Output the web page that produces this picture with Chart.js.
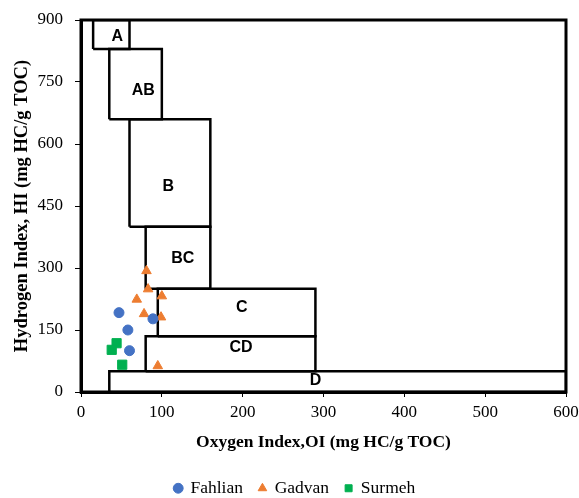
<!DOCTYPE html>
<html>
<head>
<meta charset="utf-8">
<script src="https://cdn.jsdelivr.net/npm/chart.js@4.4.1/dist/chart.umd.min.js"></script>
<style>
  html, body { margin: 0; padding: 0; background: #fff; }
  #wrap { width: 579px; height: 498px; }
</style>
</head>
<body>
<div id="wrap"><canvas id="graph_zone" width="579" height="498"></canvas></div>
<script>
// sample values (OI, HI)
const fahlianOI = [47, 89, 58, 60];
const fahlianHI = [192, 177, 150, 100];
const gadvanOI = [81, 83, 69, 100, 78, 99, 95];
const gadvanHI = [293, 249, 224, 232, 189, 181, 63];
const surmehOI = [44, 38, 51];
const surmehHI = [118, 102, 66];

// zone boxes: [minOI, maxOI], [minHI, maxHI]
const zoneNames = ['A', 'AB', 'B', 'BC', 'C', 'CD', 'D'];
const zoneOI = [[15, 60], [35, 100], [60, 160], [80, 160], [95, 290], [80, 290], [35, 600]];
const zoneHI = [[830, 900], [660, 830], [400, 660], [250, 400], [135, 250], [50, 135], [0, 50]];
const labelOI = [45, 77, 108, 126, 199, 198, 290];
const labelHI = [860, 729, 496, 322, 203, 107, 27];

const xTicks = [0, 100, 200, 300, 400, 500, 600];
const yTicks = [0, 150, 300, 450, 600, 750, 900];

function pts(xs, ys) {
    return xs.map((x, i) => ({ x: x, y: ys[i] }));
}

let datasets = [
    {
        label: 'Fahlian',
        data: pts(fahlianOI, fahlianHI),
        pointStyle: 'circle',
        pointRadius: 5,
        backgroundColor: '#4472C4',
        borderColor: '#4472C4'
    },
    {
        label: 'Gadvan',
        data: pts(gadvanOI, gadvanHI),
        pointStyle: 'triangle',
        pointRadius: 5.5,
        backgroundColor: '#ED7D31',
        borderColor: '#ED7D31'
    },
    {
        label: 'Surmeh',
        data: pts(surmehOI, surmehHI),
        pointStyle: 'rect',
        pointRadius: 6.5,
        backgroundColor: '#00B050',
        borderColor: '#00B050'
    }
];

zoneNames.forEach((name, i) => {
    let x0 = zoneOI[i][0], x1 = zoneOI[i][1];
    let y0 = zoneHI[i][0], y1 = zoneHI[i][1];
    datasets.push({
        label: 'zone ' + name,
        data: [{x: x0, y: y0}, {x: x0, y: y1}, {x: x1, y: y1}, {x: x1, y: y0}, {x: x0, y: y0}],
        showLine: true,
        pointRadius: 0,
        borderColor: '#000',
        borderWidth: 2.5,
        fill: false
    });
});

const zonePlugin = {
    id: 'zones',
    afterDatasetsDraw(chart) {
        let ctx = chart.ctx;
        let xs = chart.scales.x, ys = chart.scales.y;
        ctx.save();
        ctx.fillStyle = '#000';
        ctx.font = 'bold 16px "Liberation Sans", Arial, sans-serif';
        ctx.textAlign = 'center';
        ctx.textBaseline = 'middle';
        zoneNames.forEach((name, i) => {
            ctx.fillText(name, xs.getPixelForValue(labelOI[i]), ys.getPixelForValue(labelHI[i]));
        });
        // frame
        let a = chart.chartArea;
        ctx.strokeStyle = '#000';
        ctx.lineWidth = 3;
        ctx.strokeRect(a.left, a.top, a.right - a.left, a.bottom - a.top);
        ctx.restore();
    }
};

const serif = '"Liberation Serif", "Times New Roman", serif';
const tickFont = { family: serif, size: 17 };

let myChart = new Chart(document.querySelector('#graph_zone').getContext('2d'), {
    type: 'scatter',
    data: { datasets: datasets },
    options: {
        responsive: false,
        animation: false,
        layout: { padding: { left: 24, right: 13, top: 20, bottom: -9 } },
        plugins: {
            legend: {
                position: 'bottom',
                labels: {
                    usePointStyle: true,
                    boxWidth: 7,
                    boxHeight: 7,
                    padding: 16,
                    color: '#000',
                    font: { family: serif, size: 17.5 },
                    filter: item => !item.text.startsWith('zone')
                }
            },
            tooltip: { enabled: false }
        },
        scales: {
            x: {
                min: 0,
                max: 600,
                afterBuildTicks: axis => { axis.ticks = xTicks.map(v => ({ value: v })); },
                afterFit: axis => { axis.height = 71.5; axis.paddingLeft = 0; axis.paddingRight = 0; },
                ticks: { color: '#000', font: tickFont, padding: 5 },
                grid: { drawOnChartArea: false, color: '#000', tickLength: 5 },
                border: { color: '#000', width: 3 },
                title: { display: true, text: 'Oxygen Index,OI (mg HC/g TOC)', color: '#000', font: { family: serif, size: 17.5, weight: 'bold' }, padding: { top: 4, bottom: 11 } }
            },
            y: {
                min: 0,
                max: 900,
                afterBuildTicks: axis => { axis.ticks = yTicks.map(v => ({ value: v })); },
                afterFit: axis => { axis.width = 57; axis.paddingTop = 0; axis.paddingBottom = 0; },
                ticks: { color: '#000', font: tickFont, padding: 12 },
                grid: { drawOnChartArea: false, color: '#000', tickLength: 6 },
                border: { color: '#000', width: 3 },
                title: { display: true, text: 'Hydrogen Index, HI (mg HC/g TOC)', color: '#000', font: { family: serif, size: 18.5, weight: 'bold' }, padding: { top: -13, bottom: 4 } }
            }
        }
    },
    plugins: [zonePlugin]
});
</script>
</body>
</html>
